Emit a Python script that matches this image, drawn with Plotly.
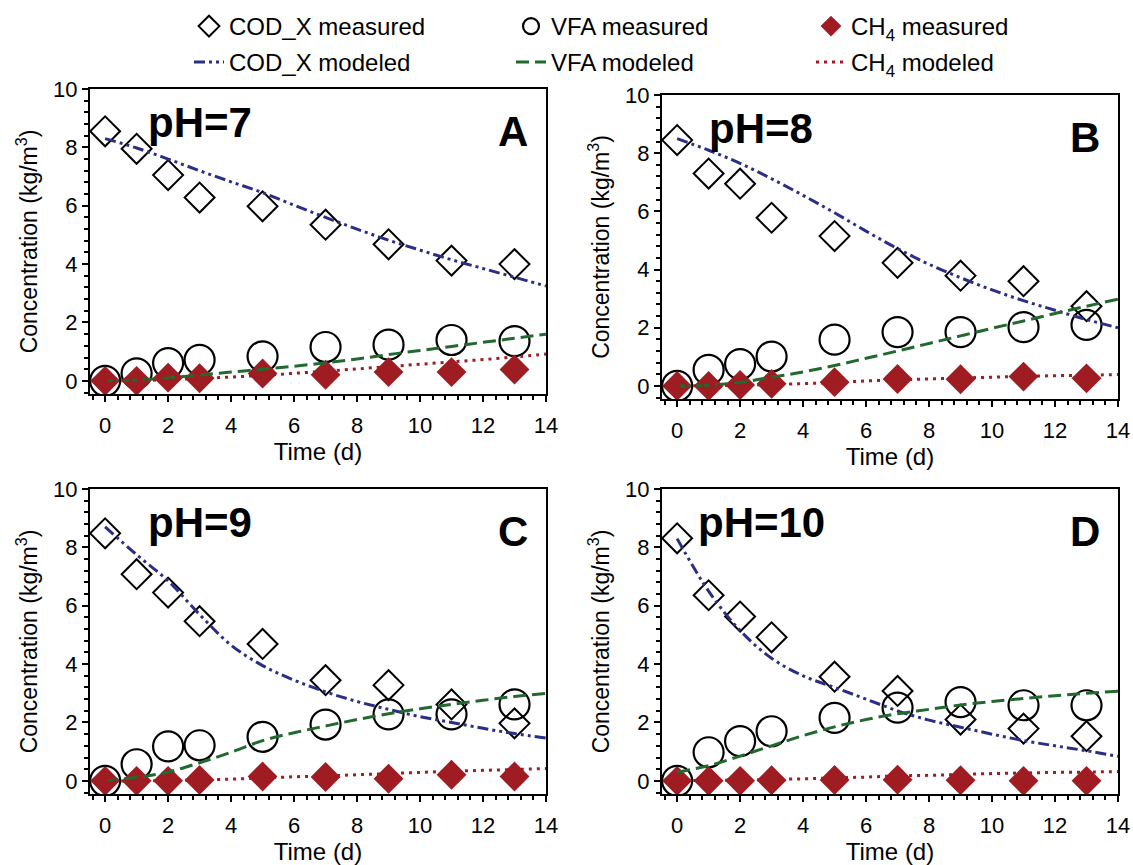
import plotly.graph_objects as go

# Sampling times (days)
t_meas = [0, 1, 2, 3, 5, 7, 9, 11, 13]
t_model = [0, 1, 2, 3, 4, 5, 6, 7, 8, 9, 10, 11, 12, 13, 14]

# pH = 7
cod_meas_7 = [8.55, 7.95, 7.05, 6.28, 5.98, 5.35, 4.68, 4.12, 4.0]
vfa_meas_7 = [0.0, 0.26, 0.61, 0.72, 0.84, 1.16, 1.24, 1.40, 1.36]
ch4_meas_7 = [0.0, 0.0, 0.11, 0.09, 0.25, 0.21, 0.30, 0.30, 0.39]
cod_mod_7 = [8.3, 7.98, 7.6, 7.2, 6.82, 6.45, 6.02, 5.6, 5.2, 4.82, 4.48, 4.15, 3.85, 3.55, 3.25]
vfa_mod_7 = [0.0, 0.03, 0.1, 0.2, 0.3, 0.4, 0.5, 0.62, 0.75, 0.9, 1.04, 1.18, 1.32, 1.46, 1.6]
ch4_mod_7 = [0.0, 0.01, 0.04, 0.08, 0.13, 0.19, 0.26, 0.33, 0.41, 0.49, 0.57, 0.65, 0.73, 0.82, 0.92]

# pH = 8
cod_meas_8 = [8.45, 7.30, 6.95, 5.78, 5.15, 4.23, 3.79, 3.60, 2.74]
vfa_meas_8 = [0.0, 0.55, 0.75, 1.01, 1.59, 1.85, 1.85, 2.02, 2.10]
ch4_meas_8 = [0.0, 0.0, 0.03, 0.07, 0.13, 0.24, 0.23, 0.32, 0.26]
cod_mod_8 = [8.5, 8.1, 7.65, 7.12, 6.55, 5.95, 5.32, 4.72, 4.18, 3.72, 3.3, 2.93, 2.6, 2.28, 2.0]
vfa_mod_8 = [0.0, 0.02, 0.12, 0.3, 0.48, 0.7, 0.95, 1.2, 1.46, 1.72, 1.98, 2.23, 2.49, 2.74, 2.98]
ch4_mod_8 = [0.0, 0.01, 0.02, 0.05, 0.08, 0.12, 0.17, 0.21, 0.24, 0.27, 0.3, 0.33, 0.35, 0.37, 0.39]

# pH = 9
cod_meas_9 = [8.48, 7.08, 6.45, 5.47, 4.69, 3.45, 3.28, 2.62, 1.97]
vfa_meas_9 = [0.0, 0.57, 1.18, 1.22, 1.51, 1.93, 2.28, 2.28, 2.62]
ch4_meas_9 = [0.0, 0.0, 0.0, 0.03, 0.15, 0.13, 0.07, 0.21, 0.15]
cod_mod_9 = [8.7, 7.75, 6.85, 5.7, 4.65, 3.95, 3.45, 3.05, 2.72, 2.45, 2.2, 2.0, 1.8, 1.62, 1.47]
vfa_mod_9 = [0.0, 0.12, 0.3, 0.62, 0.98, 1.38, 1.65, 1.88, 2.1, 2.3, 2.47, 2.62, 2.76, 2.89, 3.0]
ch4_mod_9 = [0.0, 0.0, 0.01, 0.03, 0.06, 0.1, 0.14, 0.17, 0.21, 0.25, 0.29, 0.33, 0.36, 0.39, 0.42]

# pH = 10
cod_meas_10 = [8.31, 6.36, 5.63, 4.92, 3.57, 3.08, 2.10, 1.79, 1.53]
vfa_meas_10 = [0.0, 0.98, 1.36, 1.70, 2.16, 2.51, 2.70, 2.59, 2.59]
ch4_meas_10 = [0.0, 0.0, 0.0, 0.02, 0.03, 0.04, 0.02, 0.0, 0.0]
cod_mod_10 = [8.3, 6.5, 5.15, 4.2, 3.6, 3.2, 2.8, 2.4, 2.08, 1.84, 1.6, 1.38, 1.2, 1.03, 0.84]
vfa_mod_10 = [0.3, 0.52, 0.85, 1.2, 1.55, 1.85, 2.1, 2.3, 2.45, 2.6, 2.72, 2.82, 2.92, 3.0, 3.07]
ch4_mod_10 = [0.0, 0.02, 0.03, 0.05, 0.07, 0.1, 0.13, 0.17, 0.19, 0.22, 0.25, 0.27, 0.29, 0.3, 0.32]

panels = [
    ("pH=7", "A", cod_meas_7, vfa_meas_7, ch4_meas_7, cod_mod_7, vfa_mod_7, ch4_mod_7),
    ("pH=8", "B", cod_meas_8, vfa_meas_8, ch4_meas_8, cod_mod_8, vfa_mod_8, ch4_mod_8),
    ("pH=9", "C", cod_meas_9, vfa_meas_9, ch4_meas_9, cod_mod_9, vfa_mod_9, ch4_mod_9),
    ("pH=10", "D", cod_meas_10, vfa_meas_10, ch4_meas_10, cod_mod_10, vfa_mod_10, ch4_mod_10),
]

W, H = 1133, 865
FONT = "Liberation Sans, Arial, Helvetica, sans-serif"
BLUE = "#2a2f85"
GREEN = "#23692f"
RED = "#9e1c22"

# plot-area boxes in pixels: (left, right, top, bottom)
boxes = [
    (90, 546, 89, 394),
    (662, 1118, 95, 399),
    (90, 546, 489, 794),
    (662, 1118, 489, 794),
]
pH_x = [1.3, 0.95, 1.3, 0.6]

fig = go.Figure()

for i, (ph, letter, cm, vm, hm, cmod, vmod, hmod) in enumerate(panels):
    n = "" if i == 0 else str(i + 1)
    xa, ya = "x" + n, "y" + n
    show = i == 0
    fig.add_trace(go.Scatter(
        x=t_meas, y=cm, xaxis=xa, yaxis=ya, mode="markers",
        name="COD_X measured", legend="legend", showlegend=show,
        marker=dict(symbol="diamond-open", size=23, color="black", line=dict(width=2, color="black"))))
    fig.add_trace(go.Scatter(
        x=t_meas, y=vm, xaxis=xa, yaxis=ya, mode="markers",
        name="VFA measured", legend="legend2", showlegend=show,
        marker=dict(symbol="circle-open", size=30, color="black", line=dict(width=2.2, color="black"))))
    fig.add_trace(go.Scatter(
        x=t_meas, y=hm, xaxis=xa, yaxis=ya, mode="markers",
        name="CH<sub>4</sub> measured", legend="legend3", showlegend=show,
        marker=dict(symbol="diamond", size=23, color=RED, line=dict(width=0))))
    fig.add_trace(go.Scatter(
        x=t_model, y=cmod, xaxis=xa, yaxis=ya, mode="lines",
        name="COD_X modeled", legend="legend4", showlegend=show,
        line=dict(color=BLUE, width=3, dash="11px,4px,3px,4px,3px,4px", shape="spline")))
    fig.add_trace(go.Scatter(
        x=t_model, y=vmod, xaxis=xa, yaxis=ya, mode="lines",
        name="VFA modeled", legend="legend5", showlegend=show,
        line=dict(color=GREEN, width=3, dash="13px,6px", shape="spline")))
    fig.add_trace(go.Scatter(
        x=t_model, y=hmod, xaxis=xa, yaxis=ya, mode="lines",
        name="CH<sub>4</sub> modeled", legend="legend6", showlegend=show,
        line=dict(color=RED, width=3, dash="3px,5px", shape="spline")))

    l, r, t, b = boxes[i]
    axis_common = dict(
        showline=True, linewidth=2, linecolor="black", mirror=True,
        ticks="outside", ticklen=6, tickwidth=2, tickcolor="black",
        showgrid=False, zeroline=False, automargin=False,
        tickfont=dict(family=FONT, size=22, color="black"),
        minor=dict(ticks="outside", ticklen=4, tickwidth=1.5, tickcolor="black", dtick=0.4, tick0=0, showgrid=False),
    )
    fig.update_layout({
        "xaxis" + n: dict(
            axis_common, domain=[l / W, r / W], range=[-0.48, 14], dtick=2, tick0=0,
            anchor=ya, ticklabelstandoff=5,
            title=dict(text="Time (d)", font=dict(family=FONT, size=24, color="black"), standoff=2)),
        "yaxis" + n: dict(
            axis_common, domain=[1 - b / H, 1 - t / H], range=[-0.45, 10], dtick=2, tick0=0,
            anchor=xa,
            title=dict(text="Concentration (kg/m<sup>3</sup>)", font=dict(family=FONT, size=23, color="black"), standoff=9)),
    })
    fig.add_annotation(x=pH_x[i], y=8.85, xref=xa, yref=ya, text="<b>" + ph + "</b>",
                       showarrow=False, xanchor="left", yanchor="middle",
                       font=dict(family=FONT, size=42, color="black"))
    fig.add_annotation(x=12.95, y=8.55, xref=xa, yref=ya, text="<b>" + letter + "</b>",
                       showarrow=False, xanchor="center", yanchor="middle",
                       font=dict(family=FONT, size=42, color="black"))

# one single-entry legend per series, laid out in a 3 x 2 grid above the panels
legend_common = dict(
    xanchor="left", yanchor="top",
    font=dict(family=FONT, size=24, color="black"),
    bgcolor="rgba(0,0,0,0)", borderwidth=0, itemsizing="trace",
)
col_text_x = [234, 556, 856]
row_top = [4, 40]
legend_layout = {}
for k in range(6):
    key = "legend" if k == 0 else "legend" + str(k + 1)
    legend_layout[key] = dict(
        legend_common,
        x=(col_text_x[k % 3] - 45) / W,
        y=1 - row_top[k // 3] / H,
    )

fig.update_layout(
    width=W, height=H,
    margin=dict(l=0, r=0, t=0, b=0),
    paper_bgcolor="white", plot_bgcolor="white",
    font=dict(family=FONT, color="black"),
    **legend_layout,
)

fig.write_html("out.html")
